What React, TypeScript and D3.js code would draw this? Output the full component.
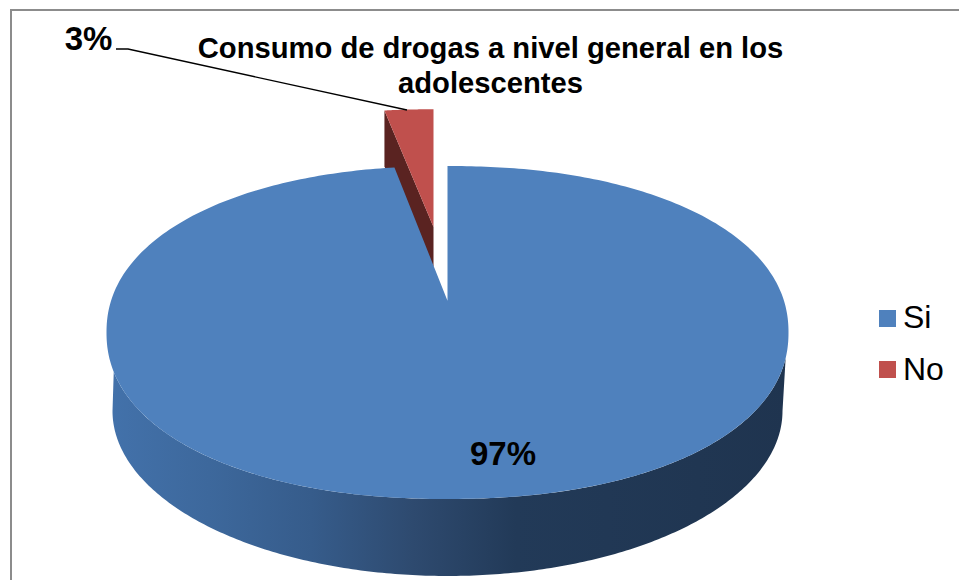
import React from "react";
import * as d3 from "d3";

const categories = ["Si", "No"];
const shares = [97, 3];
const shareLabels = ["97%", "3%"];
const colors = ["#4f81bd", "#c0504d"];
const titleLines = ["Consumo de drogas a nivel general en los", "adolescentes"];

const WIDTH = 959;
const HEIGHT = 580;
const FONT = "'Liberation Sans', Arial, sans-serif";

// Outlines of the tilted disc: upper face and the lower rim of its wall.
const topRim = { cx: 447.5, cy: 332.5, rx: 341, ry: 166.5 };
const lowRim = { cx: 447.5, cy: 411, rx: 335, ry: 165 };
// Perspective shift of the disc's centre on the upper face, and the slight squareness of that face.
const TILT = 0.19;
const SQUARENESS = 2.15;
const apex: [number, number] = [447.5, topRim.cy - TILT * topRim.ry];

// Pie angle (0 at twelve o'clock, clockwise) to a point on the upper face's edge, under perspective.
function rimPoint(theta: number): [number, number] {
  const s = Math.sin(theta);
  const c = Math.cos(theta);
  const d = 1 + TILT * c;
  const x = (s * Math.sqrt(1 - TILT * TILT)) / d;
  const y = (-c - TILT) / d;
  const k = Math.pow(Math.pow(Math.abs(x), SQUARENESS) + Math.pow(Math.abs(y), SQUARENESS), -1 / SQUARENESS);
  return [topRim.cx + topRim.rx * x * k, topRim.cy + topRim.ry * y * k];
}

function sweep(a0: number, a1: number, n = 360): [number, number][] {
  return d3.range(n + 1).map((i) => rimPoint(a0 + ((a1 - a0) * i) / n));
}

const line = d3.line().curve(d3.curveLinear);

// The pulled-out slice sits further back, so it is drawn a little smaller.
const pulled = { apex: [433.5, 227] as [number, number], sx: 0.925, sy: 0.873, wallRim: 56, wallApex: 40 };
const shift = ([x, y]: [number, number]): [number, number] => [
  pulled.apex[0] + (x - apex[0]) * pulled.sx,
  pulled.apex[1] + (y - apex[1]) * pulled.sy,
];

export default function App() {
  const [si, no] = d3.pie<number>().sort(null)(shares);

  // Upper face of the large slice, notch included
  const siFace = line([apex, ...sweep(si.startAngle, si.endAngle)]) + "Z";

  // Front wall: the lower part of the face outline joined to the lower rim.
  // The wall only emerges from under the face some way below its widest points.
  const faceFront = sweep(Math.PI * 0.5, Math.PI * 1.5).filter(
    ([x, y]) => y >= (x > topRim.cx ? 358 : 371),
  );
  const lower = d3.range(241).map((i) => {
    const t = Math.PI - (Math.PI * i) / 240;
    return [lowRim.cx + lowRim.rx * Math.cos(t), lowRim.cy + lowRim.ry * Math.sin(t)] as [number, number];
  });
  const wall = line([...faceFront, ...lower]) + "Z";

  // Pulled-out slice
  const noRim = sweep(no.startAngle, no.endAngle, 30).map(shift);
  const noApex = shift(apex);
  const noFace = line([noApex, ...noRim]) + "Z";
  const noLeft = noRim[0];
  const noWall =
    line([noLeft, [noLeft[0], noLeft[1] + pulled.wallRim], [noApex[0], noApex[1] + pulled.wallApex], noApex]) + "Z";

  return (
    <svg
      width={WIDTH}
      height={HEIGHT}
      viewBox={`0 0 ${WIDTH} ${HEIGHT}`}
      style={{ position: "absolute", left: 0, top: 0, background: "#fff" }}
    >
      <defs>
        <linearGradient id="wallShade" gradientUnits="userSpaceOnUse" x1={106} x2={789} y1={0} y2={0}>
          <stop offset="0" stopColor="#4372ab" />
          <stop offset="0.15" stopColor="#3d689c" />
          <stop offset="0.3" stopColor="#365c8b" />
          <stop offset="0.45" stopColor="#2e4a6f" />
          <stop offset="0.6" stopColor="#223a58" />
          <stop offset="1" stopColor="#1f344f" />
        </linearGradient>
      </defs>

      {/* chart frame: top and left edges only reach the canvas */}
      <path d="M11 580V10H959" fill="none" stroke="#8c8c8c" strokeWidth={2} />

      {/* pulled-out slice */}
      <path d={noWall} fill="#5a2321" />
      <path d={noFace} fill={colors[1]} />

      {/* large slice */}
      <path d={wall} fill="url(#wallShade)" />
      <path d={siFace} fill={colors[0]} />

      {/* leader line for the small slice */}
      <path d="M116 49H128L407 110" fill="none" stroke="#000" strokeWidth={1.3} />

      {/* data labels */}
      <text x={88.5} y={50} textAnchor="middle" fontFamily={FONT} fontWeight="bold" fontSize={33}>
        {shareLabels[1]}
      </text>
      <text x={503} y={465} textAnchor="middle" fontFamily={FONT} fontWeight="bold" fontSize={33}>
        {shareLabels[0]}
      </text>

      {/* title */}
      {titleLines.map((t, i) => (
        <text
          key={t}
          x={490.5}
          y={58 + i * 35}
          textAnchor="middle"
          fontFamily={FONT}
          fontWeight="bold"
          fontSize={29.2}
        >
          {t}
        </text>
      ))}

      {/* legend */}
      {categories.map((c, i) => (
        <g key={c}>
          <rect x={879} y={310 + i * 51} width={17} height={17} fill={colors[i]} />
          <text x={903} y={328 + i * 51.5} fontFamily={FONT} fontSize={32}>
            {c}
          </text>
        </g>
      ))}
    </svg>
  );
}
